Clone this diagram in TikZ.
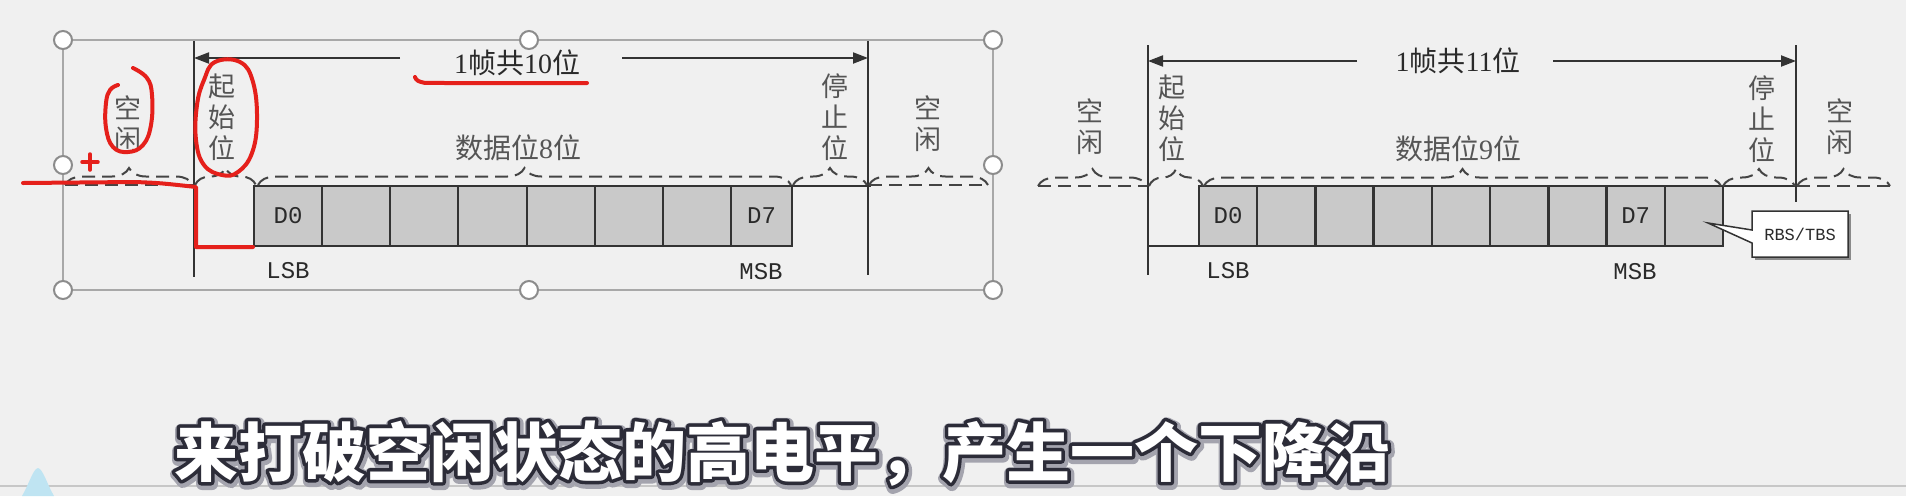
\documentclass[tikz,border=0pt]{standalone}
\usepackage{fontspec}
\setmainfont{Liberation Serif}
\newfontfamily\cjk{Noto Sans CJK SC}
\newfontfamily\monof{Liberation Mono}
\usetikzlibrary{decorations.pathreplacing,arrows.meta}
\definecolor{bgC}{HTML}{F0F0F0}
\definecolor{lineC}{HTML}{333333}
\definecolor{cellC}{HTML}{C9C9C9}
\definecolor{dashC}{HTML}{444444}
\definecolor{lblC}{HTML}{555555}
\definecolor{txtC}{HTML}{2A2A2A}
\definecolor{selC}{HTML}{A8A8A8}
\definecolor{handC}{HTML}{8C8C8C}
\definecolor{redC}{HTML}{E5201B}
\definecolor{outC}{HTML}{2C2C38}
\definecolor{haloC}{HTML}{A4A4AE}
\definecolor{shadC}{HTML}{8A8A8A}
\definecolor{blueC}{HTML}{BFE4F2}
\newcommand\strokedtext[2]{\special{pdf:literal direct 1 j 1 J #1 w 1 Tr}#2\special{pdf:literal direct 0 Tr}}
\newcommand\subtext{来打破空闲状态的高电平，产生一个下降沿}
\begin{document}
\begin{tikzpicture}[x=1pt,y=-1pt,
  wire/.style={draw=lineC,line width=2pt},
  cellbox/.style={draw=lineC,fill=cellC,line width=2.4pt,minimum height=60pt,inner sep=0pt,outer sep=0pt,anchor=north west},
  bracedash/.style={draw=dashC,line width=2pt,dash pattern=on 13pt off 7pt,decorate,decoration={brace,amplitude=17pt}},
  idleline/.style={draw=dashC,line width=2pt,dash pattern=on 13pt off 7pt},
  vlab/.style={text=lblC,font=\cjk\fontsize{27}{31}\selectfont,align=center,inner sep=0pt,anchor=center},
  hlab/.style={text=txtC,font=\fontsize{28}{32}\selectfont,inner sep=0pt,anchor=base},
  bitlab/.style={text=txtC,font=\monof\fontsize{24}{28}\selectfont,inner sep=0pt},
  tipline/.style={-{Triangle[length=15pt,width=11pt]},draw=lineC,line width=2pt},
  handle/.style={circle,draw=handC,fill=white,line width=2pt,minimum size=18pt,inner sep=0pt},
  redmark/.style={draw=redC,line width=4pt,line cap=round,line join=round},
  subt/.style={font=\cjk\bfseries\fontsize{64}{64}\selectfont,inner sep=0pt,anchor=base},
]
\fill[bgC] (0,0) rectangle (1906,496);
\useasboundingbox (0,0) rectangle (1906,496);
\draw[draw=black!22,line width=2pt] (0,486) -- (1906,486);
\fill[blueC] (22,496) .. controls (30,482) and (33,469) .. (38,468) .. controls (43,469) and (47,484) .. (54,496) -- cycle;

% selection frame
\draw[draw=selC,line width=1.6pt] (63,40) rectangle (993,290);

% ================= left diagram =================
\foreach \i/\a/\b in {1/254/322,2/322/390,3/390/458,4/458/527,5/527/595,6/595/663,7/663/731,8/731/792}
  \node[cellbox,minimum width={\b-\a}] (cL\i) at (\a,186) {};
\node[bitlab] (d0L) at (cL1.center) {D0};
\node[bitlab] (d7L) at (cL8.center) {D7};
\node[bitlab] (lsbL) at (288,271) {LSB};
\node[bitlab] (msbL) at (761,272) {MSB};

\coordinate (sLt) at (194,41); \coordinate (sLb) at (194,277);
\coordinate (eLt) at (868,41); \coordinate (eLb) at (868,275);
\draw[wire] (sLt) -- (sLb);
\draw[wire] (eLt) -- (eLb);
\coordinate (lowL) at (194,246);
\draw[wire] (lowL) -- (cL1.south west);
\coordinate (hiL) at (871,186);
\draw[wire] (cL8.north east) -- (hiL);

\coordinate (aL1) at (400,58); \coordinate (aL2) at (622,58);
\coordinate (aL0) at (194,58); \coordinate (aL3) at (868,58);
\draw[tipline] (aL1) -- (aL0);
\draw[tipline] (aL2) -- (aL3);
\node[hlab] (frameL) at (517,73) {1{\cjk 帧共}10{\cjk 位}};
\node[hlab,text=lblC] (dataL) at (518,158) {{\cjk 数据位}8{\cjk 位}};

\node[vlab] (idleL1) at (128,124) {空\\闲};
\node[vlab] (startL) at (222,117) {起\\始\\位};
\node[vlab] (stopL) at (835,117) {停\\止\\位};
\node[vlab] (idleL2) at (928,124) {空\\闲};

\draw[bracedash] (65,185) -- (193,185);
\draw[bracedash] (195,185) -- (256,185);
\draw[bracedash] (258,185) -- (791,185);
\draw[bracedash] (793,185) -- (867,185);
\draw[bracedash] (869,185) -- (988,185);
\draw[idleline] (65,185) -- (193,185);
\draw[idleline] (869,185) -- (988,185);

% ================= right diagram =================
\foreach \i in {1,...,9}
  \node[cellbox,minimum width=58.22] (cR\i) at ({1199+58.22*(\i-1)},186) {};
\node[bitlab] (d0R) at (cR1.center) {D0};
\node[bitlab] (d7R) at (cR8.center) {D7};
\node[bitlab] (lsbR) at (1228,271) {LSB};
\node[bitlab] (msbR) at (1635,272) {MSB};

\coordinate (sRt) at (1148,45); \coordinate (sRb) at (1148,275);
\coordinate (eRt) at (1796,45); \coordinate (eRb) at (1796,202);
\draw[wire] (sRt) -- (sRb);
\draw[wire] (eRt) -- (eRb);
\coordinate (lowR) at (1148,246);
\draw[wire] (lowR) -- (cR1.south west);
\coordinate (hiR) at (1808,186);
\draw[wire] (cR9.north east) -- (hiR);

\coordinate (aR1) at (1357,61); \coordinate (aR2) at (1553,61);
\coordinate (aR0) at (1148,61); \coordinate (aR3) at (1796,61);
\draw[tipline] (aR1) -- (aR0);
\draw[tipline] (aR2) -- (aR3);
\node[hlab] (frameR) at (1458,71) {1{\cjk 帧共}11{\cjk 位}};
\node[hlab,text=lblC] (dataR) at (1458,159) {{\cjk 数据位}9{\cjk 位}};

\node[vlab] (idleR1) at (1090,127) {空\\闲};
\node[vlab] (startR) at (1172,118) {起\\始\\位};
\node[vlab] (stopR) at (1762,119) {停\\止\\位};
\node[vlab] (idleR2) at (1840,127) {空\\闲};

\draw[bracedash] (1038,186) -- (1147,186);
\draw[bracedash] (1149,186) -- (1203,186);
\draw[bracedash] (1204,186) -- (1721,186);
\draw[bracedash] (1723,186) -- (1795,186);
\draw[bracedash] (1797,186) -- (1890,186);
\draw[idleline] (1038,186) -- (1147,186);
\draw[idleline] (1797,186) -- (1890,186);

% callout
\fill[shadC] (1755,214) rectangle (1851,260);
\draw[draw=lineC,fill=white,line width=1.5pt] (1752,211) -- (1848,211) -- (1848,257) -- (1752,257) -- (1752,243) -- (1708,223) -- (1752,230) -- cycle;
\node[text=txtC,font=\monof\fontsize{17}{20}\selectfont,inner sep=0pt] (rbs) at (1800,234) {RBS/TBS};

% handles
\foreach \n/\x/\y in {h1/63/40,h2/529/40,h3/993/40,h4/63/165,h5/993/165,h6/63/290,h7/529/290,h8/993/290}
  \node[handle] (\n) at (\x,\y) {};

% red annotations
\draw[redmark] plot[smooth,tension=0.7] coordinates {(133,68) (147,78) (152,95) (151,125) (143,145) (128,152) (113,147) (106,128) (106,103) (110,90) (118,85)};
\draw[redmark] plot[smooth cycle,tension=0.7] coordinates {(215,62) (240,62) (253,82) (257,120) (252,153) (238,172) (222,175) (204,165) (196,140) (197,105) (204,80)};
\draw[redmark] plot[smooth,tension=0.6] coordinates {(415,77) (421,82) (445,83) (587,83)};
\draw[redmark,line width=3.5pt] (82,162) -- (98,162) (90,154) -- (90,170);
\draw[redmark] (23,183) -- (135,182) .. controls (160,183) .. (196,187) -- (196,247) -- (253,247);

% subtitle: halo, dark outline, white fill
\node[subt,text=haloC] (subhalo) at (783,478) {\strokedtext{12}{\subtext}};
\node[subt,text=outC] (subline) at (782,476) {\strokedtext{7}{\subtext}};
\node[subt,text=white] (subtitle) at (782,476) {\subtext};
\end{tikzpicture}
\end{document}
